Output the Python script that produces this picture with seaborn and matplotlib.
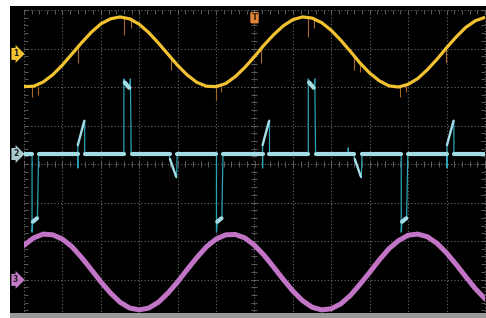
import numpy as np
import pandas as pd
import matplotlib
matplotlib.use("Agg")
import matplotlib.pyplot as plt
import seaborn as sns
from matplotlib.patches import Rectangle

sns.set_theme(style="white")
plt.rcParams['font.family'] = ['DejaVu Sans']

# ---- data (screen divisions: x -6..6, y -4..4) ----
t = np.linspace(-6, 6, 49)  # sample times, 0.25 div apart

ch1 = [2.01, 2.02, 2.13, 2.32, 2.57, 2.86, 3.15, 3.42, 3.64, 3.77,
       3.82, 3.77, 3.63, 3.41, 3.14, 2.85, 2.56, 2.31, 2.12, 2.02,
       2.01, 2.09, 2.27, 2.51, 2.79, 3.09, 3.36, 3.59, 3.75, 3.82,
       3.79, 3.67, 3.47, 3.21, 2.92, 2.62, 2.36, 2.16, 2.03, 2.00,
       2.07, 2.22, 2.45, 2.72, 3.02, 3.30, 3.55, 3.72, 3.81]

ch3 = [-2.11, -1.92, -1.82, -1.84, -1.95, -2.15, -2.43, -2.74, -3.06, -3.35,
       -3.59, -3.74, -3.79, -3.74, -3.59, -3.35, -3.06, -2.74, -2.43, -2.15,
       -1.95, -1.84, -1.83, -1.92, -2.11, -2.37, -2.68, -3.00, -3.30, -3.55,
       -3.72, -3.79, -3.76, -3.63, -3.41, -3.12, -2.81, -2.49, -2.20, -1.99,
       -1.85, -1.82, -1.89, -2.06, -2.31, -2.61, -2.93, -3.24, -3.50]

# channel 2 full path (thin)
ch2_x = [-6.00, -5.79, -5.79, -5.77, -5.65, -5.62, -4.60, -4.60, -4.60, -4.42, -4.42,
         -3.40, -3.40, -3.38, -3.25, -3.23, -3.21, -2.21, -2.21, -2.03, -2.01,
         -0.99, -0.99, -0.97, -0.85, -0.82, 0.21, 0.21, 0.21, 0.39, 0.39,
         1.40, 1.40, 1.42, 1.55, 1.57, 1.59, 2.44, 2.44, 2.45, 2.60, 2.60, 2.78, 2.80,
         3.82, 3.82, 3.84, 3.96, 3.99, 5.01, 5.01, 5.01, 5.19, 5.19, 6.00]
ch2_y = [0.27, 0.27, -1.77, -1.50, -1.40, 0.27, 0.27, -0.10, 0.49, 1.14, 0.27,
         0.27, 2.21, 2.13, 1.97, 2.21, 0.27, 0.27, 0.15, -0.36, 0.27,
         0.27, -1.77, -1.50, -1.40, 0.27, 0.27, -0.10, 0.49, 1.14, 0.27,
         0.27, 2.21, 2.13, 1.97, 2.21, 0.27, 0.27, 0.42, 0.27, 0.27, 0.15, -0.36, 0.27,
         0.27, -1.77, -1.50, -1.40, 0.27, 0.27, -0.10, 0.49, 1.14, 0.27, 0.27]

# channel 2 bright (thick) pieces: baseline runs and pulse tops
ch2_seg = [0, 0, 1, 1, 2, 2, 3, 3, 4, 4, 5, 5, 6, 6, 7, 7, 8, 8, 9, 9, 10, 10,
           11, 11, 12, 12, 13, 13, 14, 14, 15, 15]
ch2_sx = [-6.00, -5.79, -5.62, -4.60, -4.42, -3.40, -3.19, -2.21, -2.01, -0.99,
          -0.82, 0.21, 0.39, 1.40, 1.59, 2.60, 2.80, 3.82, 3.99, 5.01, 5.19, 6.00,
          -5.77, -5.66, -0.97, -0.86, 3.84, 3.95, -3.38, -3.26, 1.42, 1.54]
ch2_sy = [0.27, 0.27, 0.27, 0.27, 0.27, 0.27, 0.27, 0.27, 0.27, 0.27,
          0.27, 0.27, 0.27, 0.27, 0.27, 0.27, 0.27, 0.27, 0.27, 0.27, 0.27, 0.27,
          -1.50, -1.41, -1.50, -1.41, -1.50, -1.41, 2.12, 1.98, 2.12, 1.98]

# channel 2 ramps
ramp_seg = [0, 0, 1, 1, 2, 2, 3, 3, 4, 4]
ramp_x = [-4.60, -4.43, 0.21, 0.38, 5.01, 5.18, -2.20, -2.04, 2.61, 2.77]
ramp_y = [0.49, 1.12, 0.49, 1.12, 0.49, 1.12, 0.13, -0.33, 0.13, -0.33]

# crosstalk glitches on channel 1
glitch_x = [-5.79, -5.64, -4.60, -3.40, -3.22, -2.18, -1.01, -0.86,
            0.18, 1.40, 1.56, 2.60, 2.75, 3.79, 3.95, 4.99]
glitch_top = [2.00, 2.00, 3.01, 3.82, 3.82, 2.78, 2.00, 2.05,
              3.09, 3.82, 3.82, 2.78, 2.65, 2.00, 2.05, 3.09]
glitch_bot = [1.74, 1.79, 2.62, 3.35, 3.53, 2.44, 1.66, 1.87,
              2.62, 3.30, 3.53, 2.44, 2.39, 1.74, 1.87, 2.62]

ch_labels = ["1", "2", "3"]
ch_levels = [2.86, 0.26, -3.01]
ch_badge_colors = ["#f2c230", "#a9c9ce", "#c47ac6"]

YEL = "#f2c230"
PUR = "#c274c6"
CYA = "#a3dce4"
TEAL = "#2aa3b4"
ORG = "#a8672e"
GRID = "#6a6a6a"

# ---- figure ----
fig = plt.figure(figsize=(4.86, 3.18), dpi=100, facecolor="white")
fig.add_artist(Rectangle((10 / 486, 5 / 318), 476 / 486, 307 / 318,
                         transform=fig.transFigure, fc="black", ec="none", zorder=-5))
ax = fig.add_axes([24 / 486, 0, 461 / 486, 308 / 318])
ax.set_facecolor("black")
ax.set_xlim(-6, 6)
ax.set_ylim(-4, 4)
for s in ax.spines.values():
    s.set_visible(False)

# graticule
for gx in range(-6, 7):
    ax.axvline(gx, color=GRID, lw=0.8, ls=(0, (1, 2)), zorder=1, clip_on=False)
for gy in range(-4, 5):
    ax.axhline(gy, color=GRID, lw=0.8, ls=(0, (1, 2)), zorder=1, clip_on=False)
ax.set_xticks(range(-6, 7))
ax.set_yticks(range(-4, 5))
ax.set_xticks(np.arange(-6, 6.01, 0.2), minor=True)
ax.set_yticks(np.arange(-4, 4.01, 0.2), minor=True)
ax.tick_params(which="both", direction="in", length=2.6, width=0.6, color=GRID,
               top=True, right=True, bottom=True, left=True,
               labelbottom=False, labelleft=False)
mx = np.arange(-6, 6.01, 0.2)
my = np.arange(-4, 4.01, 0.2)
ax.plot(mx, np.zeros_like(mx), ls="none", marker="|", ms=4, mew=0.6, color=GRID, zorder=1)
ax.plot(np.zeros_like(my), my, ls="none", marker="_", ms=4, mew=0.6, color=GRID, zorder=1)

# traces
sns.lineplot(x=t, y=ch3, ax=ax, color=PUR, lw=3.6, sort=False, estimator=None, zorder=3)
sns.lineplot(x=ch2_x, y=ch2_y, ax=ax, color=TEAL, lw=0.9, sort=False, estimator=None, zorder=4)
sns.lineplot(x=ramp_x, y=ramp_y, units=ramp_seg, ax=ax, color=CYA, lw=1.7,
             sort=False, estimator=None, zorder=5)
sns.lineplot(x=ch2_sx, y=ch2_sy, units=ch2_seg, ax=ax, color=CYA, lw=3.0,
             sort=False, estimator=None, zorder=5)
ax.vlines(glitch_x, glitch_bot, glitch_top, color=ORG, lw=0.8, zorder=3)
sns.lineplot(x=t, y=ch1, ax=ax, color=YEL, lw=2.3, sort=False, estimator=None, zorder=4)

# channel badges
for lab, lev, col in zip(ch_labels, ch_levels, ch_badge_colors):
    ax.text(-6.22, lev, lab, ha="center", va="center", fontsize=5.5, color="#222222",
            fontweight="bold", clip_on=False, zorder=6,
            bbox=dict(boxstyle="rarrow,pad=0.2", fc=col, ec="none"))

# trigger marker
ax.text(0, 3.80, "T", ha="center", va="center", fontsize=6, fontweight="bold",
        color="#3a1800", zorder=6,
        bbox=dict(boxstyle="round,pad=0.15", fc="#e0873a", ec="none"))

# bottom bezel
fig.add_artist(Rectangle((10 / 486, 0), 476 / 486, 5 / 318, transform=fig.transFigure,
                         fc="#9a9a9a", ec="none", zorder=10))

ax.set_xlabel("")
ax.set_ylabel("")
fig.savefig("out.png", dpi=100, facecolor="white")
